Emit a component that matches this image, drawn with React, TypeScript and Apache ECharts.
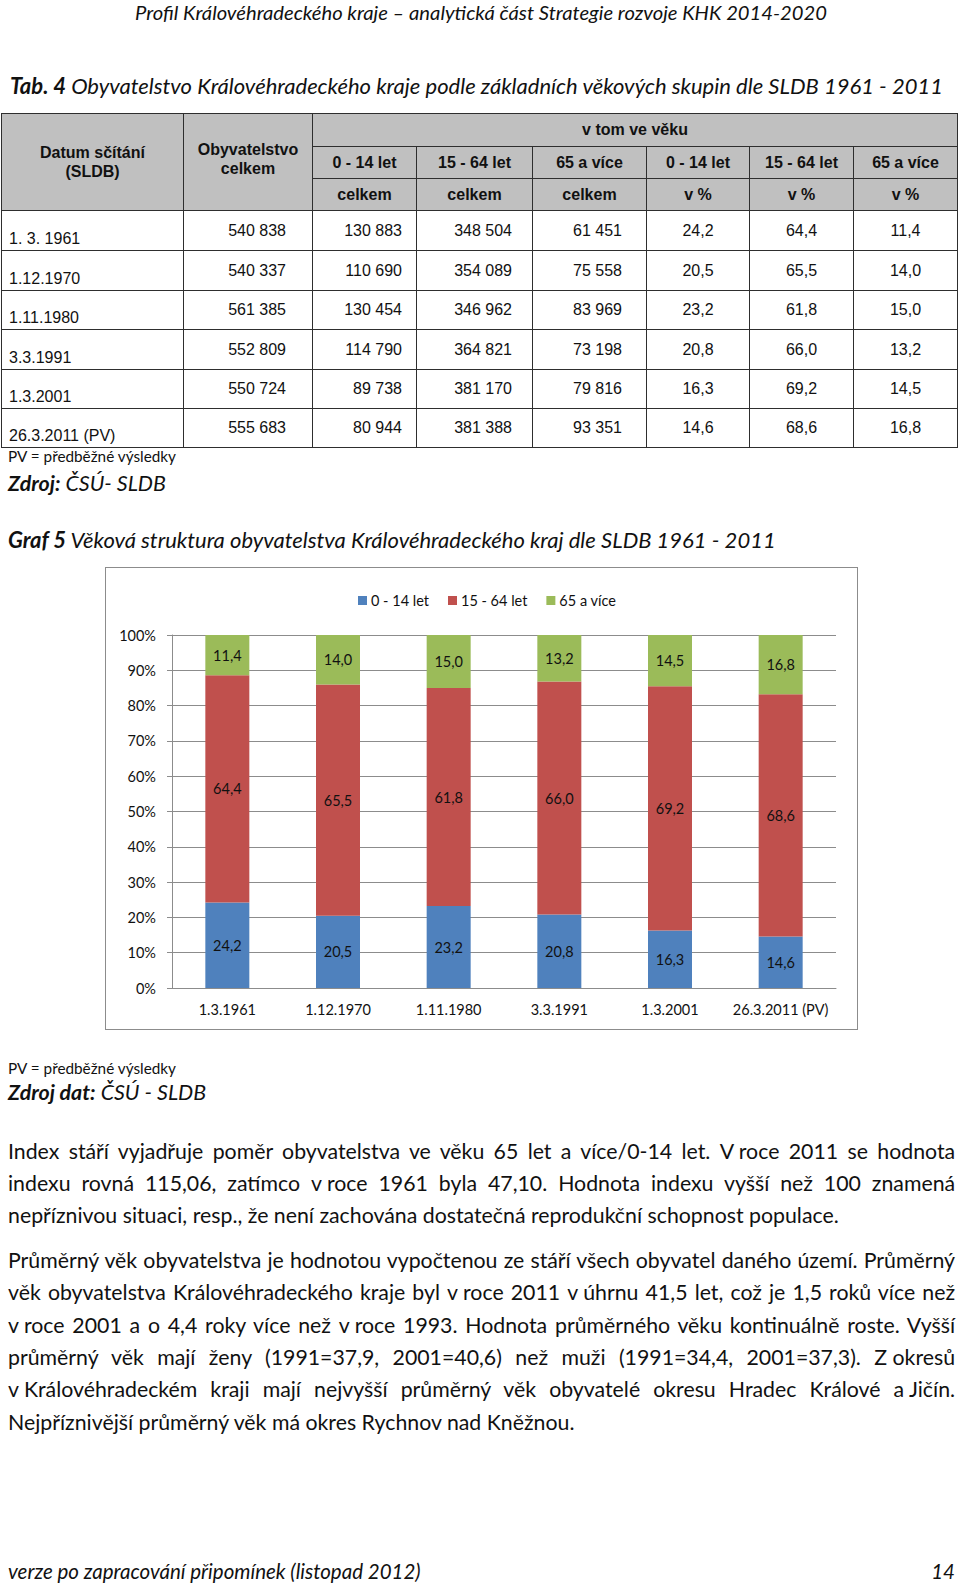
import React, { useEffect, useRef } from "react";
import * as echarts from "echarts";

// ---------- table data ----------
const tableDates = ["1. 3. 1961", "1.12.1970", "1.11.1980", "3.3.1991", "1.3.2001", "26.3.2011 (PV)"];
const popTotal = ["540 838", "540 337", "561 385", "552 809", "550 724", "555 683"];
const pop0to14 = ["130 883", "110 690", "130 454", "114 790", "89 738", "80 944"];
const pop15to64 = ["348 504", "354 089", "346 962", "364 821", "381 170", "381 388"];
const pop65plus = ["61 451", "75 558", "83 969", "73 198", "79 816", "93 351"];
const ageGroups = ["0 - 14 let", "15 - 64 let", "65 a více", "0 - 14 let", "15 - 64 let", "65 a více"];
const unitRow = ["celkem", "celkem", "celkem", "v %", "v %", "v %"];

// ---------- chart data ----------
const categories = ["1.3.1961", "1.12.1970", "1.11.1980", "3.3.1991", "1.3.2001", "26.3.2011 (PV)"];
const share0to14 = [24.2, 20.5, 23.2, 20.8, 16.3, 14.6];
const share15to64 = [64.4, 65.5, 61.8, 66.0, 69.2, 68.6];
const share65plus = [11.4, 14.0, 15.0, 13.2, 14.5, 16.8];
const seriesNames = ["0 - 14 let", "15 - 64 let", "65 a více"];

// ---------- text ----------
const para1 = [
  "Index stáří vyjadřuje poměr obyvatelstva ve věku 65 let a více/0-14 let. V\u00a0roce 2011 se hodnota",
  "indexu rovná 115,06, zatímco v\u00a0roce 1961 byla 47,10. Hodnota indexu vyšší než 100 znamená",
  "nepříznivou situaci, resp., že není zachována dostatečná reprodukční schopnost populace.",
];
const para2 = [
  "Průměrný věk obyvatelstva je hodnotou vypočtenou ze stáří všech obyvatel daného území. Průměrný",
  "věk obyvatelstva Královéhradeckého kraje byl v\u00a0roce 2011 v\u00a0úhrnu 41,5 let, což je 1,5 roků více než",
  "v\u00a0roce 2001 a o 4,4 roky více než v\u00a0roce 1993. Hodnota průměrného věku kontinuálně roste.  Vyšší",
  "průměrný věk mají ženy (1991=37,9, 2001=40,6) než muži (1991=34,4, 2001=37,3). Z\u00a0okresů",
  "v\u00a0Královéhradeckém kraji mají nejvyšší průměrný věk obyvatelé okresu Hradec Králové a\u00a0Jičín.",
  "Nejpříznivější průměrný věk má okres Rychnov nad Kněžnou.",
];
const para1Y = [1152, 1184, 1216];
const para2Y = [1261, 1293, 1326, 1358, 1390, 1423];

const FONT = "Lato, 'Open Sans', sans-serif";
const ARIAL = "'Liberation Sans', Arial, sans-serif";
const BORDER = "#2e2e2e";
const HEAD_BG = "#c0c0c0";
const BODY_SIZE = 21.3;

const colX = [1, 183, 312, 416, 532, 646, 749, 853, 957];
const headY = [113, 146, 178, 210];
const rowY = [210, 250, 290, 329, 369, 408, 447];
const numPadRight = [26, 14, 20, 24];

function Cell(props: any) {
  const { x0, x1, y0, y1, bg, children, style } = props;
  return (
    <div
      style={{
        position: "absolute",
        left: x0,
        top: y0,
        width: x1 - x0 + 1,
        height: y1 - y0 + 1,
        boxSizing: "border-box",
        border: `1px solid ${BORDER}`,
        background: bg || "#fff",
        display: "flex",
        fontFamily: ARIAL,
        fontSize: 16,
        color: "#111",
        ...style,
      }}
    >
      {children}
    </div>
  );
}

function T(props: any) {
  const { x, y, size, children, style } = props;
  return (
    <div
      style={{
        position: "absolute",
        left: x,
        top: y - size * 0.7,
        height: size * 1.4,
        lineHeight: `${size * 1.4}px`,
        fontSize: size,
        fontFamily: FONT,
        color: "#111",
        whiteSpace: "pre",
        ...style,
      }}
    >
      {children}
    </div>
  );
}

function JLine(props: any) {
  const { text, y, last, size } = props;
  const words = text.split(" ");
  return (
    <div
      style={{
        position: "absolute",
        left: 8,
        width: 947,
        top: y - size * 0.7,
        height: size * 1.4,
        lineHeight: `${size * 1.4}px`,
        fontSize: size,
        fontFamily: FONT,
        color: "#111",
        textAlign: last ? "left" : "justify",
        textAlignLast: last ? "left" : "justify",
        whiteSpace: "nowrap",
      }}
    >
      {words.map((w: string, i: number) => (
        <React.Fragment key={i}>
          {w.includes("\u00a0") ? <span style={{ display: "inline-block" }}>{w}</span> : w}
          {i < words.length - 1 ? " " : ""}
        </React.Fragment>
      ))}
    </div>
  );
}

function Chart() {
  const ref = useRef<HTMLDivElement>(null);
  useEffect(() => {
    const chart = echarts.init(ref.current!, null, { renderer: "svg" });
    const fmt = (p: any) => Number(p.value).toFixed(1).replace(".", ",");
    const mk = (name: string, data: number[], color: string) => ({
      name,
      type: "bar",
      stack: "total",
      data,
      barWidth: 44,
      itemStyle: { color },
      emphasis: { disabled: true },
      label: {
        show: true,
        position: "inside",
        formatter: fmt,
        color: "#111",
        fontFamily: FONT,
        fontSize: 14.5,
      },
    });
    const grey = "#8c8c8c";
    chart.setOption({
      animation: false,
      textStyle: { fontFamily: FONT },
      legend: {
        left: 248,
        top: 21,
        itemWidth: 9,
        itemHeight: 9,
        itemGap: 19,
        icon: "rect",
        textStyle: { color: "#111", fontSize: 14.5, fontFamily: FONT, padding: [0, 0, 0, -1] },
        data: seriesNames,
      },
      grid: { left: 67, right: 22, top: 68, bottom: 42 },
      xAxis: {
        type: "category",
        data: categories,
        axisLine: { lineStyle: { color: grey } },
        axisTick: { length: 5, lineStyle: { color: grey } },
        axisLabel: { interval: 0, color: "#111", fontSize: 14.5, fontFamily: FONT, margin: 14 },
      },
      yAxis: {
        type: "value",
        min: 0,
        max: 100,
        interval: 10,
        axisLine: { show: true, lineStyle: { color: grey } },
        axisTick: { show: true, length: 5, lineStyle: { color: grey } },
        splitLine: { lineStyle: { color: grey } },
        axisLabel: { formatter: "{value}%", color: "#111", fontSize: 14.5, fontFamily: FONT, margin: 16 },
      },
      series: [
        mk(seriesNames[0], share0to14, "#4f81bd"),
        mk(seriesNames[1], share15to64, "#c0504d"),
        mk(seriesNames[2], share65plus, "#9bbb59"),
      ],
    });
    return () => chart.dispose();
  }, []);
  return (
    <>
      <div ref={ref} style={{ position: "absolute", left: 105, top: 567, width: 753, height: 463 }} />
      <div
        style={{
          position: "absolute",
          left: 105,
          top: 567,
          width: 753,
          height: 463,
          boxSizing: "border-box",
          border: "1px solid #8c8c8c",
          pointerEvents: "none",
        }}
      />
    </>
  );
}

export default function App() {
  const cells: any[] = [];
  // header
  cells.push(
    <Cell key="h-date" x0={colX[0]} x1={colX[1]} y0={headY[0]} y1={headY[3]} bg={HEAD_BG}
      style={{ alignItems: "center", justifyContent: "center", textAlign: "center", fontWeight: "bold", lineHeight: "19px" }}>
      <div>Datum sčítání<br />(SLDB)</div>
    </Cell>
  );
  cells.push(
    <Cell key="h-tot" x0={colX[1]} x1={colX[2]} y0={headY[0]} y1={headY[3]} bg={HEAD_BG}
      style={{ alignItems: "center", justifyContent: "center", textAlign: "center", fontWeight: "bold", lineHeight: "19px" }}>
      <div style={{ marginTop: -6 }}>Obyvatelstvo<br />celkem</div>
    </Cell>
  );
  cells.push(
    <Cell key="h-vtom" x0={colX[2]} x1={colX[8]} y0={headY[0]} y1={headY[1]} bg={HEAD_BG}
      style={{ alignItems: "center", justifyContent: "center", fontWeight: "bold" }}>
      v tom ve věku
    </Cell>
  );
  ageGroups.forEach((g, i) => {
    cells.push(
      <Cell key={"h-g" + i} x0={colX[i + 2]} x1={colX[i + 3]} y0={headY[1]} y1={headY[2]} bg={HEAD_BG}
        style={{ alignItems: "center", justifyContent: "center", fontWeight: "bold" }}>
        {g}
      </Cell>
    );
    cells.push(
      <Cell key={"h-u" + i} x0={colX[i + 2]} x1={colX[i + 3]} y0={headY[2]} y1={headY[3]} bg={HEAD_BG}
        style={{ alignItems: "center", justifyContent: "center", fontWeight: "bold" }}>
        {unitRow[i]}
      </Cell>
    );
  });
  const numCols = [popTotal, pop0to14, pop15to64, pop65plus];
  const pctCols = [share0to14, share15to64, share65plus];
  tableDates.forEach((d, r) => {
    const y0 = rowY[r];
    const y1 = rowY[r + 1];
    cells.push(
      <Cell key={"d" + r} x0={colX[0]} x1={colX[1]} y0={y0} y1={y1}
        style={{ alignItems: "flex-end", paddingLeft: 7, paddingBottom: 1, lineHeight: "20px" }}>
        {d}
      </Cell>
    );
    numCols.forEach((col, c) => {
      cells.push(
        <Cell key={`n${r}-${c}`} x0={colX[c + 1]} x1={colX[c + 2]} y0={y0} y1={y1}
          style={{ alignItems: "center", justifyContent: "flex-end", paddingRight: numPadRight[c] }}>
          {col[r]}
        </Cell>
      );
    });
    pctCols.forEach((col, c) => {
      cells.push(
        <Cell key={`p${r}-${c}`} x0={colX[c + 5]} x1={colX[c + 6]} y0={y0} y1={y1}
          style={{ alignItems: "center", justifyContent: "center" }}>
          {col[r].toFixed(1).replace(".", ",")}
        </Cell>
      );
    });
  });

  return (
    <div style={{ position: "absolute", left: 0, top: 0, width: 960, height: 1583, background: "#fff", overflow: "hidden" }}>
      <T x={0} y={12} size={20.2} style={{ width: 962, textAlign: "center", fontStyle: "italic" }}>
        Profil Královéhradeckého kraje – analytická část Strategie rozvoje KHK 2014-2020
      </T>
      <T x={10} y={86} size={22} style={{ fontStyle: "italic" }}>
        <b>Tab. 4</b> Obyvatelstvo Královéhradeckého kraje podle základních věkových skupin dle SLDB 1961 - 2011
      </T>
      {cells}
      <T x={8} y={457} size={15.3}>PV = předběžné výsledky</T>
      <T x={8} y={484} size={21.4} style={{ fontStyle: "italic" }}>
        <b>Zdroj:</b> ČSÚ- SLDB
      </T>
      <T x={8} y={540} size={22} style={{ fontStyle: "italic" }}>
        <b>Graf 5</b> Věková struktura obyvatelstva Královéhradeckého kraj dle SLDB 1961 - 2011
      </T>
      <Chart />
      <T x={8} y={1069} size={15.3}>PV = předběžné výsledky</T>
      <T x={8} y={1093} size={21.4} style={{ fontStyle: "italic" }}>
        <b>Zdroj dat:</b> ČSÚ - SLDB
      </T>
      {para1.map((l, i) => (
        <JLine key={"a" + i} text={l} y={para1Y[i]} size={BODY_SIZE} last={i === para1.length - 1} />
      ))}
      {para2.map((l, i) => (
        <JLine key={"b" + i} text={l} y={para2Y[i]} size={BODY_SIZE} last={i === para2.length - 1} />
      ))}
      <T x={8} y={1571} size={20.5} style={{ fontStyle: "italic" }}>
        verze po zapracování připomínek (listopad 2012)
      </T>
      <T x={900} y={1571} size={20.5} style={{ fontStyle: "italic", width: 55, textAlign: "right" }}>
        14
      </T>
    </div>
  );
}
